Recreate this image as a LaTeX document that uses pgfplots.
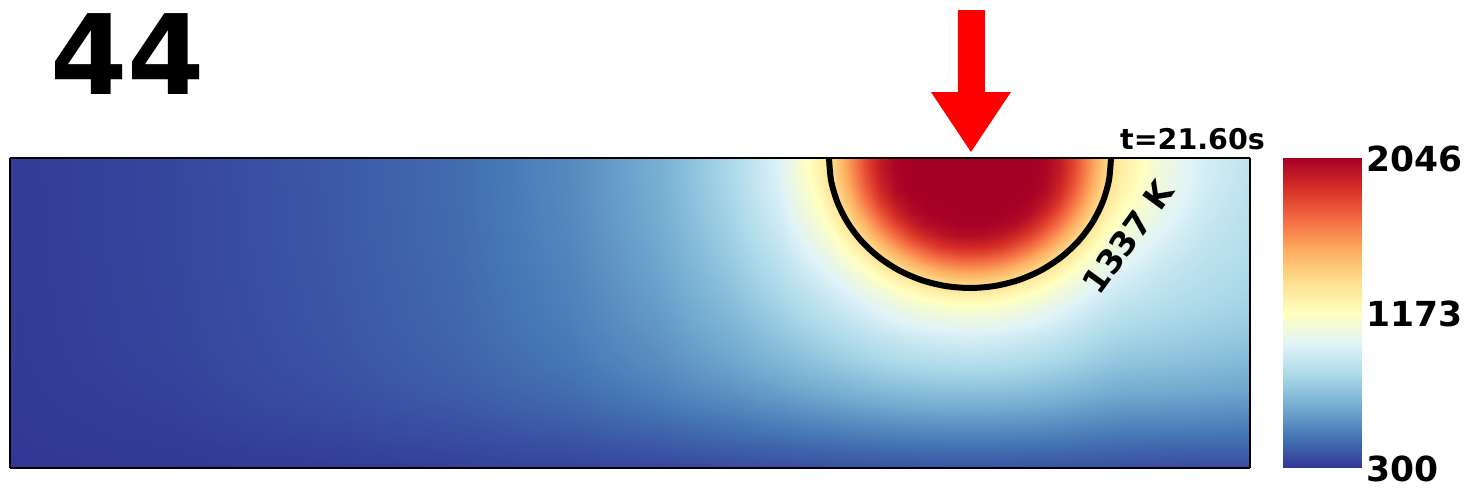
\documentclass[border=0pt]{standalone}
\usepackage{pgfplots}
\pgfplotsset{compat=1.18}
\usepackage{fontspec}
\newfontfamily\dvb{DejaVu Sans}
\definecolor{arrowred}{RGB}{255,0,0}
\pgfplotsset{colormap={rdylbu}{rgb255=(49,54,149) rgb255=(69,117,180) rgb255=(116,173,209) rgb255=(171,217,233) rgb255=(224,243,248) rgb255=(255,255,191) rgb255=(254,224,144) rgb255=(253,174,97) rgb255=(244,109,67) rgb255=(215,48,39) rgb255=(165,0,38)}}
\begin{document}
\begin{tikzpicture}
\path[use as bounding box] (0,0) rectangle (1484pt,500pt);
\begin{axis}[
  at={(10pt,32pt)}, anchor=south west,
  width=1240pt, height=310pt, scale only axis,
  xmin=10, xmax=1250, ymin=158, ymax=468, y dir=reverse,
  view={0}{90},
  xtick=\empty, ytick=\empty, ztick=\empty,
  axis on top,
  axis line style={line width=1.4pt, black},
  colormap name=rdylbu,
  point meta min=300, point meta max=2046,
  clip=false,
]
\addplot3[surf, shader=interp, mesh/cols=32, point meta=z] coordinates {
(10,158,315) (170,158,344) (330,158,395) (460,158,451) (570,158,539) (660,158,660) (730,158,824) (780,158,996) (820,158,1249) (835,158,1407) (850,158,1598) (865,158,1799) (880,158,1954) (895,158,2031) (910,158,2046) (925,158,2046) (940,158,2046) (955,158,2046) (970,158,2046) (985,158,2046) (1000,158,2046) (1015,158,2046) (1030,158,2046) (1045,158,2031) (1060,158,1954) (1075,158,1799) (1090,158,1598) (1105,158,1407) (1120,158,1285) (1160,158,1092) (1205,158,960) (1250,158,890)
(10,169,315) (170,169,344) (330,169,395) (460,169,451) (570,169,539) (660,169,660) (730,169,822) (780,169,993) (820,169,1245) (835,169,1400) (850,169,1590) (865,169,1791) (880,169,1948) (895,169,2028) (910,169,2046) (925,169,2046) (940,169,2046) (955,169,2046) (970,169,2046) (985,169,2046) (1000,169,2046) (1015,169,2046) (1030,169,2046) (1045,169,2028) (1060,169,1948) (1075,169,1791) (1090,169,1590) (1105,169,1400) (1120,169,1280) (1160,169,1088) (1205,169,957) (1250,169,887)
(10,180,315) (170,180,344) (330,180,395) (460,180,451) (570,180,539) (660,180,659) (730,180,821) (780,180,989) (820,180,1232) (835,180,1382) (850,180,1564) (865,180,1765) (880,180,1928) (895,180,2019) (910,180,2046) (925,180,2046) (940,180,2046) (955,180,2046) (970,180,2046) (985,180,2046) (1000,180,2046) (1015,180,2046) (1030,180,2046) (1045,180,2019) (1060,180,1928) (1075,180,1765) (1090,180,1564) (1105,180,1382) (1120,180,1266) (1160,180,1085) (1205,180,955) (1250,180,885)
(10,191,315) (170,191,343) (330,191,394) (460,191,450) (570,191,537) (660,191,656) (730,191,816) (780,191,980) (820,191,1209) (835,191,1352) (850,191,1524) (865,191,1724) (880,191,1896) (895,191,2005) (910,191,2046) (925,191,2046) (940,191,2046) (955,191,2046) (970,191,2046) (985,191,2046) (1000,191,2046) (1015,191,2046) (1030,191,2046) (1045,191,2005) (1060,191,1896) (1075,191,1724) (1090,191,1524) (1105,191,1352) (1120,191,1243) (1160,191,1074) (1205,191,948) (1250,191,880)
(10,202,315) (170,202,343) (330,202,394) (460,202,450) (570,202,536) (660,202,654) (730,202,811) (780,202,967) (820,202,1184) (835,202,1316) (850,202,1476) (865,202,1664) (880,202,1840) (895,202,1964) (910,202,2026) (925,202,2046) (940,202,2046) (955,202,2046) (970,202,2046) (985,202,2046) (1000,202,2046) (1015,202,2046) (1030,202,2026) (1045,202,1964) (1060,202,1840) (1075,202,1664) (1090,202,1476) (1105,202,1316) (1120,202,1211) (1160,202,1062) (1205,202,940) (1250,202,875)
(10,213,315) (170,213,343) (330,213,394) (460,213,449) (570,213,535) (660,213,651) (730,213,803) (780,213,954) (820,213,1155) (835,213,1273) (850,213,1418) (865,213,1587) (880,213,1762) (895,213,1904) (910,213,2000) (925,213,2032) (940,213,2046) (955,213,2046) (970,213,2046) (985,213,2046) (1000,213,2046) (1015,213,2032) (1030,213,2000) (1045,213,1904) (1060,213,1762) (1075,213,1587) (1090,213,1418) (1105,213,1273) (1120,213,1179) (1160,213,1042) (1205,213,928) (1250,213,870)
(10,224,315) (170,224,343) (330,224,394) (460,224,448) (570,224,533) (660,224,647) (730,224,795) (780,224,940) (820,224,1121) (835,224,1222) (850,224,1352) (865,224,1498) (880,224,1670) (895,224,1816) (910,224,1924) (925,224,2000) (940,224,2023) (955,224,2037) (970,224,2042) (985,224,2037) (1000,224,2023) (1015,224,2000) (1030,224,1924) (1045,224,1816) (1060,224,1670) (1075,224,1498) (1090,224,1352) (1105,224,1222) (1120,224,1144) (1160,224,1022) (1205,224,915) (1250,224,865)
(10,235,315) (170,235,343) (330,235,394) (460,235,448) (570,235,530) (660,235,642) (730,235,785) (780,235,924) (820,235,1088) (835,235,1174) (850,235,1287) (865,235,1416) (880,235,1559) (895,235,1707) (910,235,1827) (925,235,1913) (940,235,1965) (955,235,1998) (970,235,2004) (985,235,1998) (1000,235,1965) (1015,235,1913) (1030,235,1827) (1045,235,1707) (1060,235,1559) (1075,235,1416) (1090,235,1287) (1105,235,1174) (1120,235,1105) (1160,235,996) (1205,235,905) (1250,235,858)
(10,246,314) (170,246,343) (330,246,393) (460,246,447) (570,246,527) (660,246,637) (730,246,775) (780,246,906) (820,246,1057) (835,246,1128) (850,246,1218) (865,246,1328) (880,246,1451) (895,246,1578) (910,246,1702) (925,246,1793) (940,246,1864) (955,246,1898) (970,246,1908) (985,246,1898) (1000,246,1864) (1015,246,1793) (1030,246,1702) (1045,246,1578) (1060,246,1451) (1075,246,1328) (1090,246,1218) (1105,246,1128) (1120,246,1073) (1160,246,970) (1205,246,895) (1250,246,850)
(10,257,314) (170,257,343) (330,257,392) (460,257,446) (570,257,524) (660,257,631) (730,257,764) (780,257,888) (820,257,1024) (835,257,1084) (850,257,1158) (865,257,1248) (880,257,1348) (895,257,1453) (910,257,1555) (925,257,1649) (940,257,1717) (955,257,1756) (970,257,1769) (985,257,1756) (1000,257,1717) (1015,257,1649) (1030,257,1555) (1045,257,1453) (1060,257,1348) (1075,257,1248) (1090,257,1158) (1105,257,1084) (1120,257,1039) (1160,257,946) (1205,257,883) (1250,257,843)
(10,268,314) (170,268,342) (330,268,391) (460,268,444) (570,268,521) (660,268,625) (730,268,752) (780,268,869) (820,268,989) (835,268,1046) (850,268,1100) (865,268,1173) (880,268,1255) (895,268,1338) (910,268,1423) (925,268,1493) (940,268,1556) (955,268,1594) (970,268,1608) (985,268,1594) (1000,268,1556) (1015,268,1493) (1030,268,1423) (1045,268,1338) (1060,268,1255) (1075,268,1173) (1090,268,1100) (1105,268,1046) (1120,268,1003) (1160,268,922) (1205,268,870) (1250,268,835)
(10,279,314) (170,279,342) (330,279,390) (460,279,443) (570,279,517) (660,279,618) (730,279,739) (780,279,850) (820,279,953) (835,279,1005) (850,279,1057) (865,279,1108) (880,279,1172) (895,279,1238) (910,279,1305) (925,279,1363) (940,279,1411) (955,279,1440) (970,279,1450) (985,279,1440) (1000,279,1411) (1015,279,1363) (1030,279,1305) (1045,279,1238) (1060,279,1172) (1075,279,1108) (1090,279,1057) (1105,279,1005) (1120,279,964) (1160,279,904) (1205,279,858) (1250,279,825)
(10,290,314) (170,290,341) (330,290,389) (460,290,441) (570,290,513) (660,290,611) (730,290,726) (780,290,830) (820,290,925) (835,290,963) (850,290,1013) (865,290,1059) (880,290,1101) (895,290,1154) (910,290,1200) (925,290,1249) (940,290,1286) (955,290,1309) (970,290,1316) (985,290,1309) (1000,290,1286) (1015,290,1249) (1030,290,1200) (1045,290,1154) (1060,290,1101) (1075,290,1059) (1090,290,1013) (1105,290,963) (1120,290,934) (1160,290,885) (1205,290,845) (1250,290,815)
(10,301,314) (170,301,341) (330,301,388) (460,301,440) (570,301,510) (660,301,603) (730,301,712) (780,301,809) (820,301,896) (835,301,931) (850,301,967) (865,301,1010) (880,301,1050) (895,301,1085) (910,301,1121) (925,301,1155) (940,301,1180) (955,301,1195) (970,301,1200) (985,301,1195) (1000,301,1180) (1015,301,1155) (1030,301,1121) (1045,301,1085) (1060,301,1050) (1075,301,1010) (1090,301,967) (1105,301,931) (1120,301,904) (1160,301,863) (1205,301,830) (1250,301,803)
(10,312,313) (170,312,340) (330,312,387) (460,312,438) (570,312,506) (660,312,595) (730,312,698) (780,312,787) (820,312,869) (835,312,899) (850,312,931) (865,312,960) (880,312,998) (895,312,1031) (910,312,1059) (925,312,1081) (940,312,1097) (955,312,1110) (970,312,1115) (985,312,1110) (1000,312,1097) (1015,312,1081) (1030,312,1059) (1045,312,1031) (1060,312,998) (1075,312,960) (1090,312,931) (1105,312,899) (1120,312,876) (1160,312,840) (1205,312,815) (1250,312,790)
(10,336,313) (170,336,339) (330,336,384) (460,336,433) (570,336,495) (660,336,574) (730,336,661) (780,336,742) (820,336,806) (835,336,830) (850,336,854) (865,336,877) (880,336,899) (895,336,918) (910,336,937) (925,336,950) (940,336,963) (955,336,969) (970,336,975) (985,336,969) (1000,336,963) (1015,336,950) (1030,336,937) (1045,336,918) (1060,336,899) (1075,336,877) (1090,336,854) (1105,336,830) (1120,336,813) (1160,336,790) (1205,336,770) (1250,336,750)
(10,362,312) (170,362,336) (330,362,379) (460,362,424) (570,362,479) (660,362,551) (730,362,622) (780,362,685) (820,362,738) (835,362,756) (850,362,774) (865,362,792) (880,362,809) (895,362,823) (910,362,836) (925,362,845) (940,362,853) (955,362,856) (970,362,859) (985,362,856) (1000,362,853) (1015,362,845) (1030,362,836) (1045,362,823) (1060,362,809) (1075,362,792) (1090,362,774) (1105,362,756) (1120,362,742) (1160,362,730) (1205,362,715) (1250,362,695)
(10,392,310) (170,392,330) (330,392,368) (460,392,407) (570,392,451) (660,392,508) (730,392,561) (780,392,604) (820,392,642) (835,392,655) (850,392,668) (865,392,680) (880,392,691) (895,392,700) (910,392,708) (925,392,713) (940,392,718) (955,392,720) (970,392,722) (985,392,720) (1000,392,718) (1015,392,713) (1030,392,708) (1045,392,700) (1060,392,691) (1075,392,680) (1090,392,668) (1105,392,655) (1120,392,645) (1160,392,640) (1205,392,630) (1250,392,620)
(10,422,307) (170,422,322) (330,422,350) (460,422,379) (570,422,410) (660,422,447) (730,422,482) (780,422,509) (820,422,531) (835,422,538) (850,422,545) (865,422,552) (880,422,559) (895,422,565) (910,422,571) (925,422,574) (940,422,577) (955,422,578) (970,422,579) (985,422,578) (1000,422,577) (1015,422,574) (1030,422,571) (1045,422,565) (1060,422,559) (1075,422,552) (1090,422,545) (1105,422,538) (1120,422,533) (1160,422,530) (1205,422,525) (1250,422,520)
(10,447,305) (170,447,314) (330,447,332) (460,447,351) (570,447,370) (660,447,392) (730,447,413) (780,447,427) (820,447,439) (835,447,443) (850,447,447) (865,447,451) (880,447,454) (895,447,457) (910,447,459) (925,447,461) (940,447,462) (955,447,463) (970,447,463) (985,447,463) (1000,447,462) (1015,447,461) (1030,447,459) (1045,447,457) (1060,447,454) (1075,447,451) (1090,447,447) (1105,447,443) (1120,447,440) (1160,447,433) (1205,447,430) (1250,447,430)
(10,468,302) (170,468,307) (330,468,317) (460,468,327) (570,468,336) (660,468,346) (730,468,357) (780,468,364) (820,468,368) (835,468,370) (850,468,372) (865,468,374) (880,468,375) (895,468,377) (910,468,378) (925,468,379) (940,468,379) (955,468,380) (970,468,380) (985,468,380) (1000,468,379) (1015,468,379) (1030,468,378) (1045,468,377) (1060,468,375) (1075,468,374) (1090,468,372) (1105,468,370) (1120,468,369) (1160,468,366) (1205,468,363) (1250,468,360)
};
% 1337 K contour
\addplot3[black, line width=6pt, smooth, line cap=butt] coordinates {
(1111,158,0) (1108.9,180.6,0) (1102.5,202.5,0) (1092.1,223,0) (1078,241.6,0) (1060.6,257.6,0) (1040.5,270.6,0) (1018.2,280.2,0) (994.5,286,0) (970,288,0) (945.5,286,0) (921.8,280.2,0) (899.5,270.6,0) (879.4,257.6,0) (862,241.6,0) (847.9,223,0) (837.5,202.5,0) (831.1,180.6,0) (829,158,0)
};
\node[rotate=54, inner sep=0pt, font=\dvb\bfseries\fontsize{33}{33}\selectfont] at (axis cs:1128,237,0) {1337 K};
\node[anchor=base east, inner sep=0pt, font=\dvb\bfseries\fontsize{28.5}{28.5}\selectfont] at (axis cs:1265,149,0) {t=21.60s};
\node[anchor=base west, inner sep=0pt, font=\dvb\bfseries\fontsize{111}{111}\selectfont] at (axis cs:50,94,0) {44};
\fill[arrowred] (axis cs:958,10,0) -- (axis cs:985,10,0) -- (axis cs:985,92,0) -- (axis cs:1011,92,0) -- (axis cs:971,152,0) -- (axis cs:931,92,0) -- (axis cs:958,92,0) -- cycle;
\end{axis}
% colour bar
\begin{axis}[
  at={(1283pt,32pt)}, anchor=south west,
  width=79pt, height=310pt, scale only axis,
  xmin=0, xmax=1, ymin=300, ymax=2046,
  view={0}{90},
  xtick=\empty, ztick=\empty,
  ytick={300,1173,2046},
  yticklabels={300,1173,2046},
  yticklabel pos=right,
  yticklabel style={font=\dvb\bfseries\fontsize{34.5}{34.5}\selectfont, inner xsep=4pt, yshift=-1pt},
  major tick length=0pt,
  axis line style={draw=none},
  colormap name=rdylbu,
  point meta min=300, point meta max=2046,
]
\addplot3[surf, shader=interp, mesh/cols=2, point meta=z] coordinates {
(0,300,300) (1,300,300)
(0,474.6,474.6) (1,474.6,474.6)
(0,649.2,649.2) (1,649.2,649.2)
(0,823.8,823.8) (1,823.8,823.8)
(0,998.4,998.4) (1,998.4,998.4)
(0,1173,1173) (1,1173,1173)
(0,1347.6,1347.6) (1,1347.6,1347.6)
(0,1522.2,1522.2) (1,1522.2,1522.2)
(0,1696.8,1696.8) (1,1696.8,1696.8)
(0,1871.4,1871.4) (1,1871.4,1871.4)
(0,2046,2046) (1,2046,2046)
};
\end{axis}
\end{tikzpicture}
\end{document}
